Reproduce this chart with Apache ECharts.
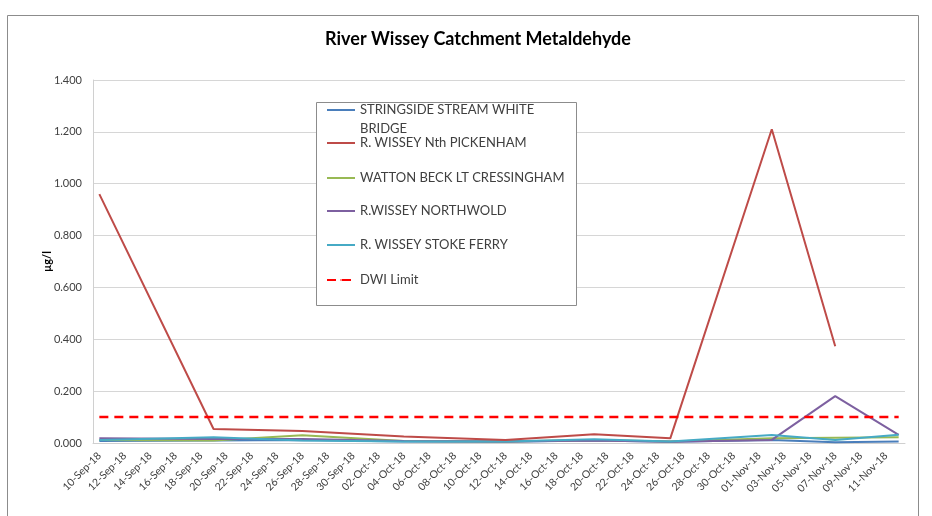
<!DOCTYPE html>
<html>
<head>
<meta charset="utf-8">
<script src="https://cdn.jsdelivr.net/npm/echarts@6/dist/echarts.min.js"></script>
<style>
html,body{margin:0;padding:0;background:#fff;}
#chart{width:932px;height:516px;}
</style>
</head>
<body>
<div id="chart"></div>
<script>
// ---- Data ----
const axisStart = '2018-09-10';
const axisEnd = '2018-11-12';
const sampleDates = ['10-Sep-18','19-Sep-18','26-Sep-18','04-Oct-18','12-Oct-18','19-Oct-18','25-Oct-18','02-Nov-18','07-Nov-18','12-Nov-18'];
const stringside  = [0.008, 0.010, 0.012, 0.006, 0.005, 0.010, 0.005, 0.012, 0.003, 0.006];
const nthPickenham = [0.960, 0.054, 0.046, 0.025, 0.012, 0.034, 0.018, 1.210, 0.373, null];
const wattonBeck  = [0.012, 0.010, 0.030, 0.008, 0.006, 0.012, 0.006, 0.018, 0.020, 0.022];
const northwold   = [0.018, 0.015, 0.015, 0.008, 0.006, 0.010, 0.005, 0.012, 0.181, 0.031];
const stokeFerry  = [0.012, 0.022, 0.010, 0.006, 0.006, 0.014, 0.006, 0.031, 0.012, 0.032];
const dwiLimit = 0.1;
const seriesNames = ['STRINGSIDE STREAM WHITE BRIDGE','R. WISSEY Nth PICKENHAM','WATTON BECK LT CRESSINGHAM','R.WISSEY NORTHWOLD','R. WISSEY STOKE FERRY','DWI Limit'];
const yTicks = [0, 0.2, 0.4, 0.6, 0.8, 1.0, 1.2, 1.4];

// daily category axis (Excel-style date axis)
const monthNames = ['Jan','Feb','Mar','Apr','May','Jun','Jul','Aug','Sep','Oct','Nov','Dec'];
function fmtDate(d){
  const dd = String(d.getUTCDate()).padStart(2,'0');
  return dd + '-' + monthNames[d.getUTCMonth()] + '-' + String(d.getUTCFullYear()).slice(2);
}
const categories = [];
for (let t = Date.parse(axisStart + 'T00:00:00Z'); t <= Date.parse(axisEnd + 'T00:00:00Z'); t += 86400000) {
  categories.push(fmtDate(new Date(t)));
}
function pairs(vals){
  const out = [];
  vals.forEach((v,i)=>{ if (v !== null) out.push([sampleDates[i], v]); });
  return out;
}

const colors = ['#4a7ebb','#be4b48','#98b954','#7d60a0','#46aac5','#ff0000'];
const valueArrays = [stringside, nthPickenham, wattonBeck, northwold, stokeFerry];
const FONT = 'Lato, "Open Sans", sans-serif';

const series = valueArrays.map((vals, i) => ({
  name: seriesNames[i],
  type: 'line',
  data: pairs(vals),
  symbol: 'none',
  z: i === 1 ? 3 : 2,
  lineStyle: { color: colors[i], width: 2 },
  itemStyle: { color: colors[i] }
}));
series.push({
  name: seriesNames[5],
  type: 'line',
  data: [[sampleDates[0], dwiLimit], [sampleDates[sampleDates.length-1], dwiLimit]],
  symbol: 'none',
  z: 4,
  lineStyle: { color: colors[5], width: 2.5, type: [9, 6] },
  itemStyle: { color: colors[5] }
});

// legends (one per entry, stacked like the reference box)
const legendCenters = [110, 143, 178, 211, 245, 280];
const legends = seriesNames.map((n, i) => {
  const first = i === 0;
  return {
    data: [n],
    left: 326,
    top: first ? legendCenters[i] - 28.5 : legendCenters[i] - 9.5,
    padding: 0,
    itemWidth: 28,
    itemHeight: 2,
    itemGap: 0,
    selectedMode: false,
    z: 6,
    formatter: first ? '\nSTRINGSIDE STREAM WHITE\nBRIDGE' : '{name}',
    textStyle: {
      fontFamily: FONT, fontSize: 13, color: '#404040', lineHeight: 19
    }
  };
});

const chart = echarts.init(document.getElementById('chart'), null, { renderer: 'canvas' });
chart.setOption({
  animation: false,
  backgroundColor: '#ffffff',
  color: colors,
  title: {
    text: 'River Wissey Catchment Metaldehyde',
    left: 473, top: 25, textAlign: 'center',
    textStyle: { fontFamily: FONT, fontSize: 18, fontWeight: 'bold', color: '#000' }
  },
  graphic: [
    { type: 'rect', shape: { x: 7.5, y: 15.5, width: 911, height: 520 }, style: { fill: 'none', stroke: '#8c8c8c', lineWidth: 1 }, z: 0 },
    { type: 'rect', shape: { x: 316.5, y: 102.5, width: 260, height: 203 }, style: { fill: '#fff', stroke: '#8c8c8c', lineWidth: 1 }, z: 5 }
  ],
  legend: legends,
  grid: { left: 93, right: 27, top: 80, bottom: 73, containLabel: false },
  xAxis: {
    type: 'category',
    data: categories,
    boundaryGap: true,
    axisLine: { show: true, lineStyle: { color: '#d0d0d0', width: 1 } },
    axisTick: { show: false },
    axisLabel: {
      interval: 1, rotate: 45, margin: 11,
      fontFamily: FONT, fontSize: 10.5, color: '#404040'
    },
    splitLine: { show: false }
  },
  yAxis: {
    type: 'value',
    min: yTicks[0], max: yTicks[yTicks.length-1], interval: 0.2,
    name: 'µg/l',
    nameLocation: 'middle',
    nameGap: 40,
    nameMoveOverlap: false,
    nameRotate: 90,
    nameTextStyle: { fontFamily: FONT, fontSize: 11, fontWeight: 'bold', color: '#000' },
    axisLine: { show: true, lineStyle: { color: '#d0d0d0' } },
    axisTick: { show: false },
    axisLabel: {
      margin: 11, fontFamily: FONT, fontSize: 11, color: '#404040',
      formatter: v => v.toFixed(3)
    },
    splitLine: { show: true, lineStyle: { color: '#d6d6d6', width: 1 } }
  },
  series: series
});
</script>
</body>
</html>
